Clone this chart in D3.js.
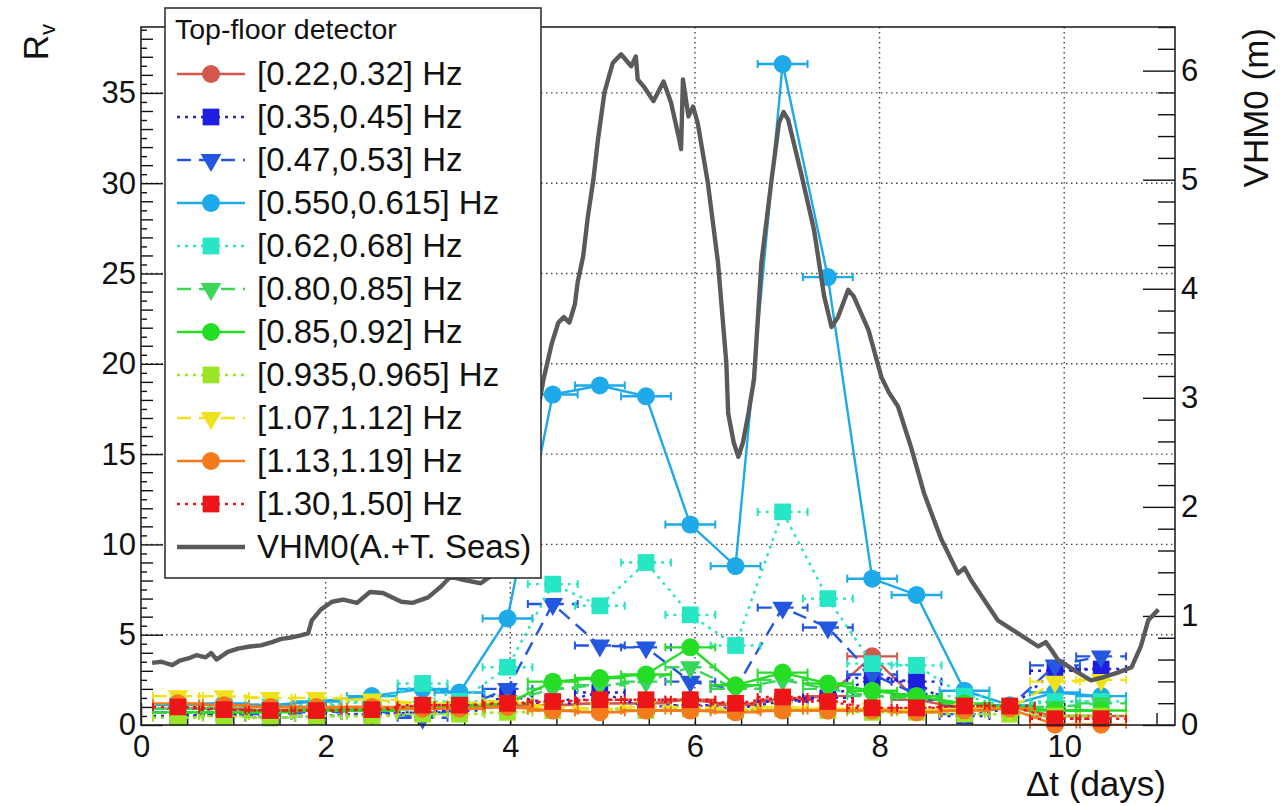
<!DOCTYPE html>
<html>
<head>
<meta charset="utf-8">
<script src="https://cdn.jsdelivr.net/npm/d3@7"></script>
<style>
  body { margin: 0; background: #fff; }
  svg { display: block; }
  text { font-family: "Liberation Sans", Arial, Helvetica, sans-serif; fill: #111; }
</style>
</head>
<body>
<svg id="chart" width="1288" height="806"></svg>
<script>
// ---- data -------------------------------------------------------------
// centre of each half-day bin (days)
const dayCenters = [0.4, 0.9, 1.4, 1.9, 2.5, 3.05, 3.45, 3.97, 4.46, 4.97, 5.47,
                    5.95, 6.44, 6.95, 7.44, 7.92, 8.4, 8.92, 9.41, 9.9, 10.4];
const binHalfWidth = 0.27;

const bandLabels = ["[0.22,0.32] Hz", "[0.35,0.45] Hz", "[0.47,0.53] Hz", "[0.550,0.615] Hz",
                    "[0.62,0.68] Hz", "[0.80,0.85] Hz", "[0.85,0.92] Hz", "[0.935,0.965] Hz",
                    "[1.07,1.12] Hz", "[1.13,1.19] Hz", "[1.30,1.50] Hz"];

// R_v per band
const rv022 = [0.9, 0.9, 0.8, 0.9, 0.9, 1.0, 1.0, 1.1, 1.1, 1.2, 1.2, 1.4, 1.1, 1.4, 1.6, 3.8, 1.4, 0.9, 1.0, 0.5, 0.5];
const rv035 = [0.5, 0.6, 0.4, 0.5, 0.6, 0.7, 0.8, 1.6, 1.2, 1.8, 1.0, 1.1, 0.9, 1.3, 1.5, 2.6, 2.4, 0.5, 0.9, 3.0, 3.1];
const rv047 = [0.7, 0.7, 0.6, 0.7, 0.8, 0.4, 0.9, 2.0, 6.7, 4.4, 4.3, 2.4, 2.0, 6.5, 5.4, 2.8, 1.7, 0.6, 1.0, 3.3, 3.8];
const rv055 = [1.1, 1.2, 1.1, 1.3, 1.6, 2.0, 1.8, 5.9, 18.3, 18.8, 18.2, 11.1, 8.8, 36.6, 24.8, 8.1, 7.2, 1.9, 1.1, 1.8, 1.6];
const rv062 = [1.1, 1.0, 1.0, 1.1, 1.3, 2.3, 1.3, 3.2, 7.8, 6.6, 9.0, 6.1, 4.4, 11.8, 7.0, 3.4, 3.3, 1.6, 1.0, 1.3, 1.3];
const rv080 = [0.9, 0.9, 0.8, 0.9, 0.9, 1.0, 1.0, 1.3, 2.0, 2.2, 2.4, 3.2, 2.0, 2.5, 2.0, 1.6, 1.5, 1.2, 1.0, 1.0, 1.2];
const rv085 = [0.7, 0.7, 0.7, 0.8, 0.8, 0.9, 1.0, 1.2, 2.4, 2.6, 2.8, 4.3, 2.2, 2.9, 2.3, 1.9, 1.6, 1.2, 1.0, 0.8, 0.8];
const rv0935 = [0.4, 0.5, 0.4, 0.5, 0.5, 0.6, 0.6, 0.7, 0.8, 0.9, 0.8, 0.9, 0.8, 0.9, 0.8, 0.7, 0.7, 0.6, 0.6, 0.5, 0.5];
const rv107 = [1.6, 1.6, 1.5, 1.5, 1.4, 1.2, 1.2, 1.3, 1.0, 0.9, 1.0, 1.0, 0.9, 1.0, 0.9, 0.9, 0.8, 0.9, 0.9, 2.4, 2.5];
const rv113 = [1.2, 1.1, 1.0, 1.0, 1.0, 0.9, 0.9, 1.0, 0.8, 0.7, 0.8, 0.8, 0.7, 0.8, 0.8, 0.8, 0.7, 0.8, 0.9, 0.02, 0.02];
const rv130 = [1.0, 0.85, 0.8, 0.8, 0.85, 1.1, 1.1, 1.2, 1.3, 1.4, 1.4, 1.4, 1.2, 1.55, 1.3, 0.95, 0.95, 1.05, 1.05, 0.35, 0.35];

// significant wave height VHM0 (m), Adriatic + Tyrrhenian seas
const vhm0Days = [0.12, 0.22, 0.34, 0.42, 0.51, 0.60, 0.70, 0.76, 0.82, 0.94, 1.05, 1.18, 1.30, 1.42, 1.52, 1.61, 1.72,
  1.81, 1.85, 1.95, 2.07, 2.19, 2.34, 2.48, 2.62, 2.82, 2.94, 3.11, 3.25, 3.35, 3.49, 3.68, 3.78,
  3.95, 4.12, 4.28, 4.36, 4.45, 4.52, 4.58, 4.64, 4.70, 4.73, 4.79, 4.84, 4.90, 4.95, 5.02, 5.11, 5.20, 5.31, 5.36, 5.38,
  5.45, 5.55, 5.66, 5.74, 5.83, 5.85, 5.87, 5.93, 5.98, 6.03, 6.14, 6.25, 6.34, 6.36, 6.42, 6.47,
  6.52, 6.58, 6.64, 6.72, 6.83, 6.91, 6.96, 7.01, 7.15, 7.29, 7.40, 7.48, 7.55, 7.66, 7.72, 7.88,
  8.02, 8.10, 8.20, 8.34, 8.48, 8.58, 8.67, 8.85, 8.92, 8.99, 9.13, 9.28, 9.50, 9.72, 9.80, 9.86, 9.93, 10.15, 10.29,
  10.43, 10.58, 10.73, 10.83, 10.91, 11.02];
const vhm0Metres = [0.57, 0.58, 0.55, 0.59, 0.61, 0.64, 0.62, 0.66, 0.60, 0.67, 0.70, 0.72, 0.73, 0.76, 0.79, 0.80, 0.82,
  0.84, 0.96, 1.06, 1.13, 1.15, 1.12, 1.22, 1.21, 1.13, 1.12, 1.17, 1.27, 1.36, 1.33, 1.30, 1.36,
  1.42, 2.16, 2.80, 3.17, 3.50, 3.69, 3.74, 3.69, 3.86, 4.06, 4.30, 4.66, 5.00, 5.37, 5.80, 6.07, 6.15, 6.04, 6.13, 5.92,
  5.85, 5.72, 5.90, 5.71, 5.37, 5.28, 5.92, 5.58, 5.67, 5.52, 4.97, 4.24, 3.32, 2.86, 2.59, 2.46,
  2.59, 2.86, 3.17, 4.24, 5.00, 5.52, 5.62, 5.55, 5.06, 4.54, 3.93, 3.65, 3.74, 3.99, 3.93, 3.62,
  3.19, 3.05, 2.92, 2.55, 2.13, 1.90, 1.70, 1.39, 1.44, 1.33, 1.15, 0.96, 0.84, 0.72, 0.76, 0.69, 0.60, 0.48, 0.41,
  0.44, 0.48, 0.53, 0.72, 0.96, 1.06];

const rvTicks = [0, 5, 10, 15, 20, 25, 30, 35];
const dayTicks = [0, 2, 4, 6, 8, 10];
const vhm0Ticks = [0, 1, 2, 3, 4, 5, 6];

// ---- styles per band ----------------------------------------------------
const bandColors = ["#d4574c", "#1e1ee0", "#2457e0", "#1ea9e8", "#26e6c4", "#3ad65a",
                    "#25dd25", "#9ae626", "#efe21a", "#f37b1c", "#ec1616"];
const bandDash = ["", "3,5", "14,8", "", "3,5", "14,8", "", "3,5", "14,8", "", "3,5"];
const bandMarker = ["circle", "square", "tri", "circle", "square", "tri",
                    "circle", "square", "tri", "circle", "square"];
const bandValues = [rv022, rv035, rv047, rv055, rv062, rv080, rv085, rv0935, rv107, rv113, rv130];

// ---- layout --------------------------------------------------------------
const frame = { left: 141, right: 1175, top: 27, bottom: 725 };
const svg = d3.select("#chart");

const x = d3.scaleLinear().domain([0, 11.2]).range([frame.left, frame.right]);
const y = d3.scaleLinear().domain([0, 38.65]).range([frame.bottom, frame.top]);
const yR = d3.scaleLinear().domain([0, 6.4]).range([frame.bottom, frame.top]);

// dotted grid
const grid = svg.append("g").attr("stroke", "#444").attr("stroke-width", 1.4)
  .attr("stroke-dasharray", "1.5,3.5");
grid.selectAll("line.v").data(dayTicks.filter(d => d > 0)).join("line")
  .attr("x1", d => x(d)).attr("x2", d => x(d))
  .attr("y1", frame.top).attr("y2", frame.bottom);
grid.selectAll("line.h").data(rvTicks.filter(d => d > 0)).join("line")
  .attr("x1", frame.left).attr("x2", frame.right)
  .attr("y1", d => y(d)).attr("y2", d => y(d));

// axes with three tick levels on the left, two elsewhere
function styleAxis(g, fontSize) {
  g.select(".domain").remove();
  g.selectAll(".tick line").attr("stroke", "#111").attr("stroke-width", 1.4);
  g.selectAll(".tick text").attr("font-size", fontSize)
    .attr("font-family", '"Liberation Sans", Arial, sans-serif').attr("fill", "#111");
}
const rvMinor1 = d3.range(0, 38.6, 1).filter(v => v % 5 !== 0);
const rvMinor05 = d3.range(0.5, 38.6, 1);
svg.append("g").attr("transform", `translate(${frame.left},0)`)
  .call(d3.axisLeft(y).tickValues(rvMinor05).tickSize(-6).tickFormat(""))
  .call(g => styleAxis(g, 31));
svg.append("g").attr("transform", `translate(${frame.left},0)`)
  .call(d3.axisLeft(y).tickValues(rvMinor1).tickSize(-12).tickFormat(""))
  .call(g => styleAxis(g, 31));
svg.append("g").attr("transform", `translate(${frame.left},0)`)
  .call(d3.axisLeft(y).tickValues(rvTicks).tickSize(-22).tickPadding(5).tickFormat(d3.format("d")))
  .call(g => styleAxis(g, 31));

const dayMinor = d3.range(0.5, 11.2, 0.5).filter(v => v % 2 !== 0);
svg.append("g").attr("transform", `translate(0,${frame.bottom})`)
  .call(d3.axisBottom(x).tickValues(dayMinor).tickSize(-12).tickFormat(""))
  .call(g => styleAxis(g, 31));
svg.append("g").attr("transform", `translate(0,${frame.bottom})`)
  .call(d3.axisBottom(x).tickValues(dayTicks).tickSize(-22).tickPadding(10).tickFormat(d3.format("d")))
  .call(g => styleAxis(g, 31));

const vMinor = d3.range(0.2, 6.41, 0.2).filter(v => Math.abs(v - Math.round(v)) > 1e-6);
svg.append("g").attr("transform", `translate(${frame.right},0)`)
  .call(d3.axisRight(yR).tickValues(vMinor).tickSize(-17).tickFormat(""))
  .call(g => styleAxis(g, 31));
svg.append("g").attr("transform", `translate(${frame.right},0)`)
  .call(d3.axisRight(yR).tickValues(vhm0Ticks).tickSize(-32).tickPadding(6).tickFormat(d3.format("d")))
  .call(g => styleAxis(g, 31));

// ---- markers ------------------------------------------------------------
function markerPath(kind) {
  if (kind === "circle") return d3.symbol(d3.symbolCircle, 255)();
  if (kind === "square") return d3.symbol(d3.symbolSquare, 280)();
  return d3.symbol(d3.symbolTriangle, 185)();
}
function drawMarker(g, kind, color, cx, cy) {
  g.append("path").attr("d", markerPath(kind))
    .attr("transform", `translate(${cx},${cy})` + (kind === "tri" ? " rotate(180)" : ""))
    .attr("fill", color).attr("stroke", "none");
}

// ---- R_v series -----------------------------------------------------------
const plot = svg.append("g");
const rvLine = d3.line().x((d, i) => x(dayCenters[i])).y(d => y(d));
bandValues.forEach((vals, k) => {
  const g = plot.append("g");
  const c = bandColors[k];
  g.append("path").datum(vals).attr("d", rvLine)
    .attr("fill", "none").attr("stroke", c).attr("stroke-width", 2.4)
    .attr("stroke-dasharray", bandDash[k] || null);
  // horizontal bin-width bars with end caps
  vals.forEach((v, i) => {
    const x0 = x(dayCenters[i] - binHalfWidth), x1 = x(dayCenters[i] + binHalfWidth), yy = y(v);
    g.append("line").attr("x1", x0).attr("x2", x1).attr("y1", yy).attr("y2", yy)
      .attr("stroke", c).attr("stroke-width", 2.4)
      .attr("stroke-dasharray", bandDash[k] || null);
    [x0, x1].forEach(xe => g.append("line").attr("x1", xe).attr("x2", xe)
      .attr("y1", yy - 4).attr("y2", yy + 4).attr("stroke", c).attr("stroke-width", 2));
  });
  vals.forEach((v, i) => drawMarker(g, bandMarker[k], c, x(dayCenters[i]), y(v)));
});

// ---- VHM0 curve on the right axis ----------------------------------------
const waveLine = d3.line().x((d, i) => x(vhm0Days[i])).y(d => yR(d));
svg.append("path").datum(vhm0Metres).attr("d", waveLine)
  .attr("fill", "none").attr("stroke", "#5a5a5a").attr("stroke-width", 4.4)
  .attr("stroke-linejoin", "round");

// frame
svg.append("rect").attr("x", frame.left).attr("y", frame.top)
  .attr("width", frame.right - frame.left).attr("height", frame.bottom - frame.top)
  .attr("fill", "none").attr("stroke", "#222").attr("stroke-width", 1.6);

// ---- axis titles -----------------------------------------------------------
svg.append("text").attr("transform", "translate(1166,796)").attr("text-anchor", "end")
  .attr("font-size", 35).text("\u0394t (days)");
svg.append("text").attr("transform", "translate(1268,28) rotate(-90)").attr("text-anchor", "end")
  .attr("font-size", 35).text("VHM0 (m)");
const rvTitle = svg.append("text").attr("transform", "translate(48,24) rotate(-90)")
  .attr("text-anchor", "end").attr("font-size", 35);
rvTitle.append("tspan").text("R");
rvTitle.append("tspan").attr("font-size", 22).attr("dy", 7).text("v");

// ---- legend ---------------------------------------------------------------
const legend = svg.append("g");
legend.append("rect").attr("x", 165).attr("y", 8).attr("width", 376).attr("height", 570)
  .attr("fill", "#fff").attr("stroke", "#333").attr("stroke-width", 1.6);
legend.append("text").attr("x", 175).attr("y", 39).attr("font-size", 28.5).text("Top-floor detector");
const entryY = i => 74 + 43 * i;
bandLabels.forEach((lab, k) => {
  const yy = entryY(k);
  legend.append("line").attr("x1", 177).attr("x2", 245).attr("y1", yy).attr("y2", yy)
    .attr("stroke", bandColors[k]).attr("stroke-width", 2.6)
    .attr("stroke-dasharray", bandDash[k] || null);
  drawMarker(legend, bandMarker[k], bandColors[k], 211, yy);
  legend.append("text").attr("x", 257).attr("y", yy + 11).attr("font-size", 33).text(lab);
});
{
  const yy = entryY(11);
  legend.append("line").attr("x1", 177).attr("x2", 245).attr("y1", yy).attr("y2", yy)
    .attr("stroke", "#5a5a5a").attr("stroke-width", 4.4);
  legend.append("text").attr("x", 257).attr("y", yy + 11).attr("font-size", 33).text("VHM0(A.+T. Seas)");
}
</script>
</body>
</html>
